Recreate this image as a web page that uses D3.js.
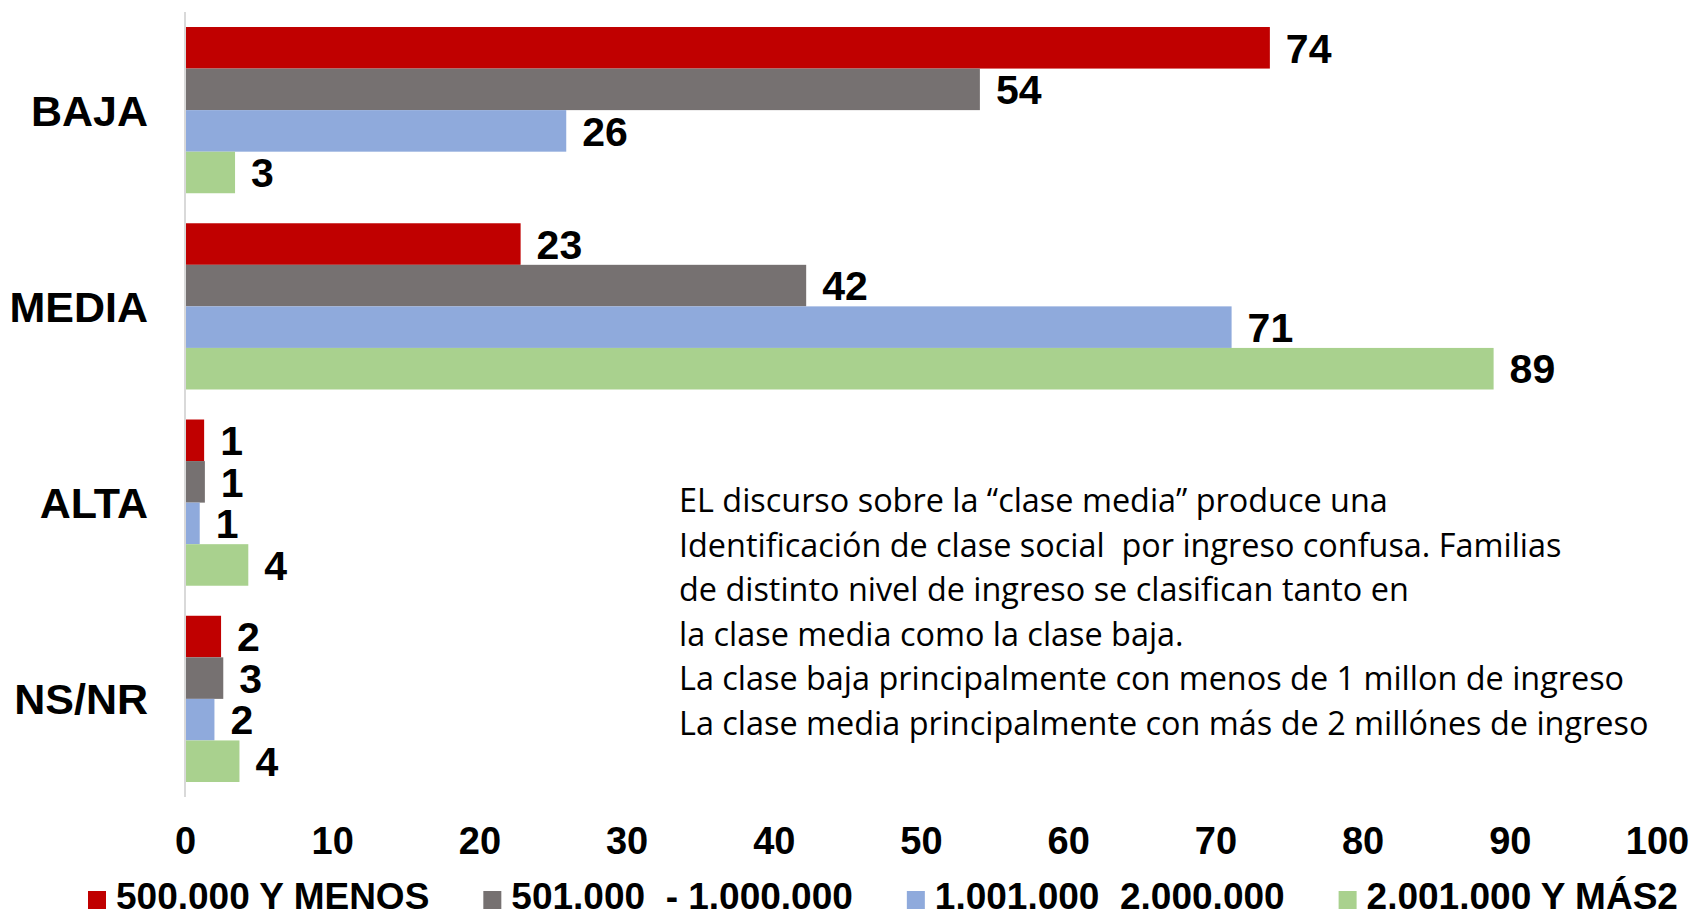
<!DOCTYPE html>
<html>
<head>
<meta charset="utf-8">
<script src="https://cdn.jsdelivr.net/npm/d3@7"></script>
<style>
  body { margin: 0; background: #fff; }
  svg { display: block; }
  .tick text { font-family: "Liberation Sans", Arial, sans-serif; font-weight: bold; }
</style>
</head>
<body>
<svg id="chart"></svg>
<script>
// categories (top to bottom) and the four income groups
const categories = ["BAJA", "MEDIA", "ALTA", "NS/NR"];
const seriesNames = ["500.000 Y MENOS", "501.000  - 1.000.000", "1.001.000  2.000.000", "2.001.000 Y MÁS2"];
const seriesColors = ["#C00000", "#767171", "#8FAADC", "#A9D18E"];

// values per category
const hasta500 = [73.7, 22.8, 1.3, 2.45];
const hasta1M = [54.0, 42.2, 1.35, 2.6];
const hasta2M = [25.9, 71.1, 1.0, 2.0];
const mas2M = [3.4, 88.9, 4.3, 3.7];

const xTicks = [0, 10, 20, 30, 40, 50, 60, 70, 80, 90, 100];

const noteLines = [
  "EL discurso sobre la \u201Cclase media\u201D produce una",
  "Identificación de clase social  por ingreso confusa. Familias",
  "de distinto nivel de ingreso se clasifican tanto en",
  "la clase media como la clase baja.",
  "La clase baja principalmente con menos de 1 millon de ingreso",
  "La clase media principalmente con más de 2 millónes de ingreso"
];

const series = [hasta500, hasta1M, hasta2M, mas2M];

let config = { width: 1696, height: 914 };
config.plot = { left: 185, right: 1657, top: 12, bottom: 797 };

let svg = d3.select("#chart")
  .attr("width", config.width)
  .attr("height", config.height);

let x = d3.scaleLinear()
  .domain([0, 100])
  .range([config.plot.left, config.plot.right]);

let y = d3.scaleBand()
  .domain(categories)
  .range([config.plot.top, config.plot.bottom])
  .paddingInner(0.153)
  .paddingOuter(0.0765);

let y1 = d3.scaleBand()
  .domain(d3.range(series.length))
  .range([0, y.bandwidth()]);

// x axis labels only (no line, no ticks)
let xaxis = d3.axisBottom(x)
  .tickValues(xTicks)
  .tickSize(0)
  .tickPadding(30)
  .tickFormat(d3.format("d"));

svg.append("g")
  .attr("id", "x-axis")
  .attr("transform", `translate(0, ${config.plot.bottom})`)
  .call(xaxis)
  .call(g => g.select(".domain").remove())
  .selectAll("text")
    .style("font-size", "38px")
    .style("fill", "#000");

// bars
let groups = svg.append("g")
  .attr("id", "bars")
  .selectAll("g")
  .data(categories)
  .enter()
  .append("g")
  .attr("transform", d => `translate(0, ${y(d)})`);

let rows = groups.selectAll("g.bar")
  .data((c, ci) => series.map((s, si) => ({ cat: c, si: si, value: s[ci] })))
  .enter()
  .append("g")
  .attr("class", "bar");

rows.append("rect")
  .attr("x", x(0))
  .attr("y", d => y1(d.si))
  .attr("width", d => x(d.value) - x(0))
  .attr("height", y1.bandwidth())
  .style("fill", d => seriesColors[d.si]);

rows.append("text")
  .attr("x", d => x(d.value) + 16)
  .attr("y", d => y1(d.si) + y1.bandwidth() / 2)
  .attr("dy", "0.36em")
  .style("font-family", "'Liberation Sans', Arial, sans-serif")
  .style("font-weight", "bold")
  .style("font-size", "41px")
  .text(d => d3.format(".0f")(d.value));

// vertical axis line
svg.append("line")
  .attr("x1", x(0)).attr("x2", x(0))
  .attr("y1", config.plot.top).attr("y2", config.plot.bottom)
  .style("stroke", "#D9D9D9")
  .style("stroke-width", 2);

// category labels
svg.append("g")
  .attr("id", "y-labels")
  .selectAll("text")
  .data(categories)
  .enter()
  .append("text")
  .attr("x", x(0) - 37)
  .attr("y", d => y(d) + y.bandwidth() / 2)
  .attr("dy", "0.36em")
  .style("text-anchor", "end")
  .style("font-family", "'Liberation Sans', Arial, sans-serif")
  .style("font-weight", "bold")
  .style("font-size", "43px")
  .text(d => d);

// note
svg.append("g")
  .attr("id", "note")
  .selectAll("text")
  .data(noteLines)
  .enter()
  .append("text")
  .attr("x", 679)
  .attr("y", (d, i) => 512 + i * 44.6)
  .style("font-family", "'Open Sans', 'Noto Sans', sans-serif")
  .style("font-size", "32.4px")
  .style("white-space", "pre")
  .style("fill", "#000")
  .text(d => d);

// legend, laid out left to right from measured text widths
let legend = svg.append("g").attr("id", "legend");
let lx = 88;
seriesNames.forEach((name, i) => {
  let item = legend.append("g");
  item.append("rect")
    .attr("x", lx)
    .attr("y", 891)
    .attr("width", 18)
    .attr("height", 18)
    .style("fill", seriesColors[i]);
  let t = item.append("text")
    .attr("x", lx + 28)
    .attr("y", 909)
    .style("font-family", "'Liberation Sans', Arial, sans-serif")
    .style("font-weight", "bold")
    .style("font-size", "37px")
    .style("white-space", "pre")
    .text(name);
  lx = lx + 28 + t.node().getComputedTextLength() + 54;
});
</script>
</body>
</html>
